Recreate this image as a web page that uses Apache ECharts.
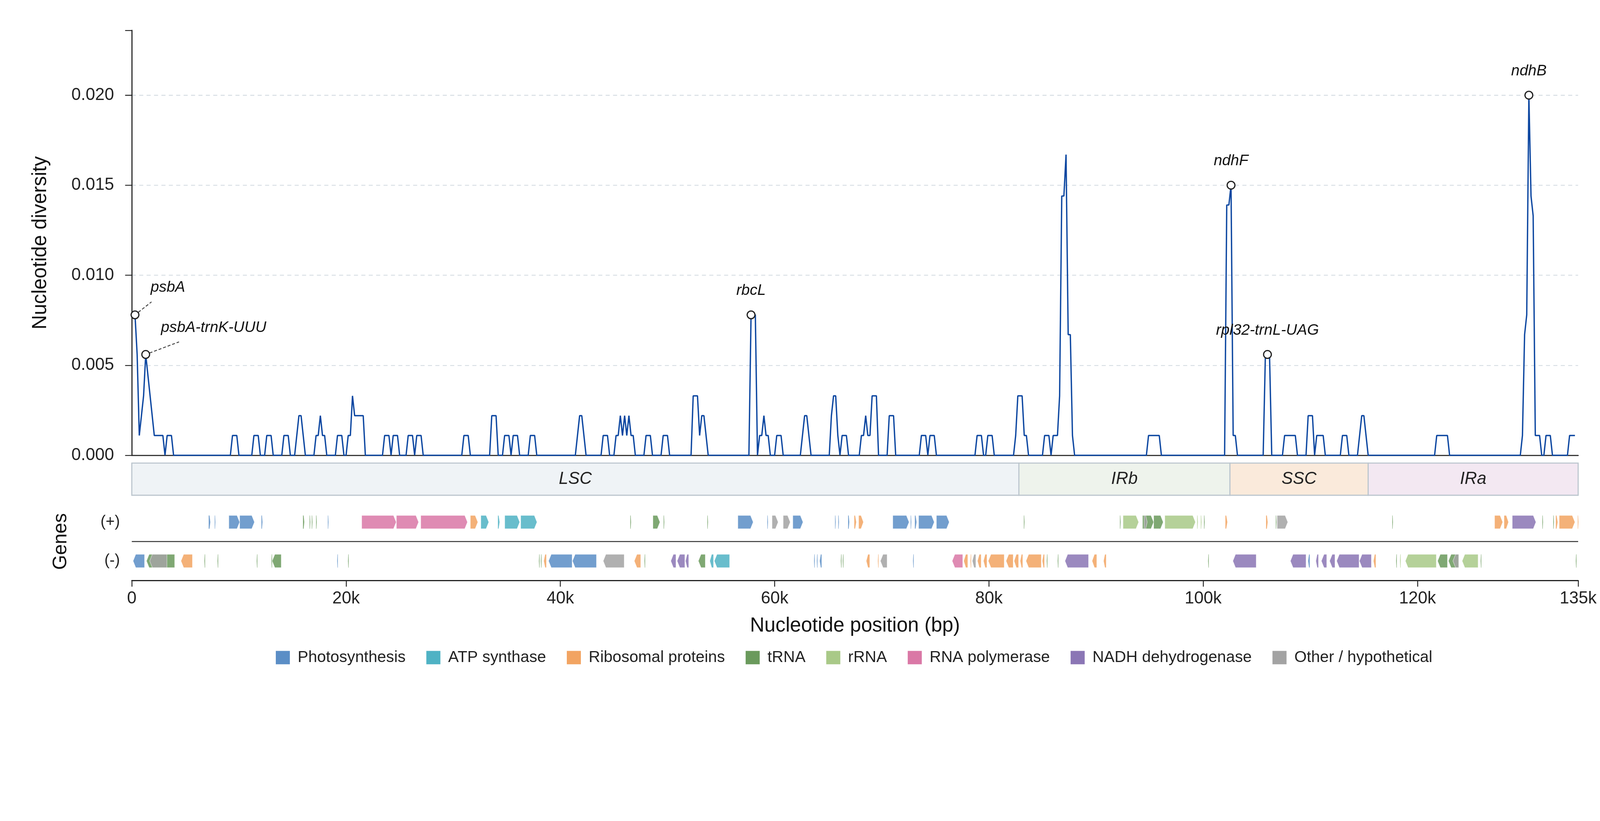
<!DOCTYPE html>
<html>
<head>
<meta charset="utf-8">
<script src="https://cdn.jsdelivr.net/npm/echarts@6/dist/echarts.min.js"></script>
<style>html,body{margin:0;padding:0;background:#fff;overflow:hidden}#c{width:4322px;height:2102px;transform-origin:0 0}</style>
</head>
<body>
<div id="c"></div>
<script>
// ---------------- DATA ----------------
const genomeLength = 135000;
const yTicks = [0, 0.005, 0.010, 0.015, 0.020];
const xTicks = [0, 20000, 40000, 60000, 80000, 100000, 120000, 135000];

// sliding-window nucleotide diversity: vertices [position bp, Pi]
const diversity = [
 [300,.0078],[500,.0056],[700,.0011],[1100,.0033],[1300,.0056],[2100,.0011],[2900,.0011],[3100,0],[3300,.0011],[3700,.0011],[3900,0],
 [9200,0],[9400,.0011],[9800,.0011],[10000,0],
 [11200,0],[11400,.0011],[11800,.0011],[12000,0],
 [12400,0],[12600,.0011],[13000,.0011],[13200,0],
 [14000,0],[14200,.0011],[14600,.0011],[14800,0],
 [15200,0],[15600,.0022],[15800,.0022],[16200,0],
 [17000,0],[17200,.0011],[17400,.0011],[17600,.0022],[17800,.0011],[18000,.0011],[18200,0],
 [19000,0],[19200,.0011],[19600,.0011],[19800,0],[20000,0],[20200,.0011],[20400,.0011],[20600,.0033],[20800,.0022],[21600,.0022],[21800,0],
 [23400,0],[23600,.0011],[24000,.0011],[24200,0],[24400,.0011],[24800,.0011],[25000,0],
 [25600,0],[25800,.0011],[26200,.0011],[26400,0],[26600,.0011],[27000,.0011],[27200,0],
 [30800,0],[31000,.0011],[31400,.0011],[31600,0],
 [33400,0],[33600,.0022],[34000,.0022],[34200,0],
 [34600,0],[34800,.0011],[35200,.0011],[35400,0],[35600,.0011],[36000,.0011],[36200,0],
 [37000,0],[37200,.0011],[37600,.0011],[37800,0],
 [41400,0],[41800,.0022],[42000,.0022],[42400,0],
 [43800,0],[44000,.0011],[44400,.0011],[44600,0],
 [45000,0],[45200,.0011],[45400,.0011],[45600,.0022],[45800,.0011],[46000,.0022],[46200,.0011],[46400,.0022],[46600,.0011],[46800,.0011],[47000,0],
 [47800,0],[48000,.0011],[48400,.0011],[48600,0],
 [49400,0],[49600,.0011],[50000,.0011],[50200,0],
 [52200,0],[52400,.0033],[52800,.0033],[53000,.0011],[53200,.0022],[53400,.0022],[53800,0],
 [57600,0],[57800,.0078],[58200,.0078],[58400,0],[58600,.0011],[58800,.0011],[59000,.0022],[59200,.0011],[59400,.0011],[59600,0],
 [60000,0],[60200,.0011],[60600,.0011],[60800,0],
 [62400,0],[62800,.0022],[63000,.0022],[63400,0],
 [65100,0],[65300,.0022],[65500,.0033],[65700,.0033],[65900,.0011],[66100,0],[66300,.0011],[66700,.0011],[66900,0],
 [67900,0],[68100,.0011],[68300,.0011],[68500,.0022],[68700,.0011],[68900,.0011],[69100,.0033],[69500,.0033],[69700,0],
 [70500,0],[70700,.0022],[71100,.0022],[71300,0],
 [73500,0],[73700,.0011],[74100,.0011],[74300,0],[74500,.0011],[74900,.0011],[75100,0],
 [78700,0],[78900,.0011],[79300,.0011],[79500,0],[79700,0],[79900,.0011],[80300,.0011],[80500,0],
 [82300,0],[82500,.0011],[82700,.0033],[83100,.0033],[83300,.0011],[83500,.0011],[83700,0],
 [85000,0],[85200,.0011],[85600,.0011],[85800,0],[86000,.0011],[86400,.0011],[86600,.0033],[86800,.0144],[87000,.0144],[87200,.0167],[87400,.0067],[87600,.0067],[87800,.0011],[88000,0],
 [94700,0],[94900,.0011],[95900,.0011],[96100,0],
 [102000,0],[102200,.0139],[102400,.0139],[102600,.0150],[102800,.0011],[103000,.0011],[103200,0],
 [105600,0],[105800,.0054],[106000,.0056],[106200,.0054],[106400,0],
 [107400,0],[107600,.0011],[108600,.0011],[108800,0],
 [109600,0],[109800,.0022],[110200,.0022],[110400,0],[110600,.0011],[111200,.0011],[111400,0],
 [112800,0],[113000,.0011],[113400,.0011],[113600,0],
 [114400,0],[114800,.0022],[115000,.0022],[115400,0],
 [121600,0],[121800,.0011],[122800,.0011],[123000,0],
 [129600,0],[129800,.0011],[130000,.0067],[130200,.0078],[130400,.0200],[130600,.0144],[130800,.0133],[131000,.0011],[131400,.0011],[131600,0],[131800,0],[132000,.0011],[132400,.0011],[132600,0],
 [134000,0],[134200,.0011],[134700,.0011]
];

// highlighted peaks
const annotationNames = ['psbA', 'psbA-trnK-UUU', 'rbcL', 'ndhF', 'rpl32-trnL-UAG', 'ndhB'];
const annotationPoints = [[300,.0078],[1300,.0056],[57800,.0078],[102600,.0150],[106000,.0056],[130400,.0200]];

// genome regions
const regionNames = ['LSC', 'IRb', 'SSC', 'IRa'];
const regionBounds = [[0,82800],[82800,102500],[102500,115400],[115400,135000]];

// gene categories
const categories = ['Photosynthesis','ATP synthase','Ribosomal proteins','tRNA','rRNA','RNA polymerase','NADH dehydrogenase','Other / hypothetical'];

// genes: [start bp, end bp, strand]
const photosynthesisGenes = [
 [7180,7330,'+'],[7740,7800,'+'],[9060,10070,'+'],[10070,11450,'+'],[12100,12200,'+'],[18300,18360,'+'],
 [56570,58000,'+'],[59320,59380,'+'],[61700,62650,'+'],[65640,65700,'+'],[65940,66000,'+'],[66860,66970,'+'],
 [71030,72550,'+'],[72700,72760,'+'],[73080,73260,'+'],[73440,74900,'+'],[75100,76300,'+'],
 [120,1190,'-'],[19170,19230,'-'],[38900,41100,'-'],[41130,43370,'-'],[63680,63740,'-'],[63940,64000,'-'],
 [64200,64400,'-'],[72920,72980,'-'],[109780,109960,'-']
];
const atpGenes = [
 [32580,33320,'+'],[34160,34340,'+'],[34810,36210,'+'],[36300,37820,'+'],
 [53950,54300,'-'],[54370,55800,'-']
];
const ribosomalGenes = [
 [31600,32300,'+'],[67420,67630,'+'],[67840,68290,'+'],[102060,102270,'+'],[105870,106020,'+'],
 [127200,127960,'+'],[128080,128500,'+'],[132900,133100,'+'],[133230,134700,'+'],[134960,135000,'+'],
 [4590,5660,'-'],[38450,38700,'-'],[46900,47500,'-'],[68550,68880,'-'],[69640,69700,'-'],[77650,78030,'-'],
 [78280,78340,'-'],[78930,79280,'-'],[79490,79820,'-'],[79940,81430,'-'],[81600,82270,'-'],[82350,82770,'-'],
 [82920,83160,'-'],[83460,84890,'-'],[84980,85190,'-'],[89630,90070,'-'],[90700,90950,'-'],[115890,116120,'-']
];
const trnaGenes = [
 [15980,16100,'+'],[16600,16660,'+'],[16800,16860,'+'],[17200,17260,'+'],[46530,46600,'+'],[48640,49300,'+'],
 [49640,49700,'+'],[53720,53780,'+'],[83260,83320,'+'],[92230,92290,'+'],[94340,95380,'+'],[95380,96270,'+'],
 [100080,100140,'+'],[106780,106840,'+'],[117650,117710,'+'],[131660,131720,'+'],[132680,132740,'+'],
 [1370,4000,'-'],[6780,6840,'-'],[8000,8060,'-'],[11660,11720,'-'],[13030,13090,'-'],[13100,13950,'-'],
 [20180,20240,'-'],[38000,38050,'-'],[38180,38240,'-'],[47850,47910,'-'],[52880,53530,'-'],[66180,66240,'-'],
 [66360,66420,'-'],[85400,85460,'-'],[86420,86480,'-'],[100460,100520,'-'],[118010,118070,'-'],
 [121880,122800,'-'],[122890,123850,'-'],[125900,125960,'-'],[134780,134840,'-']
];
const rrnaGenes = [
 [92520,93980,'+'],[96420,99280,'+'],[99440,99500,'+'],[99780,99840,'+'],
 [118370,118430,'-'],[118870,121760,'-'],[124170,125660,'-']
];
const rnaPolGenes = [
 [21460,24680,'+'],[24700,26770,'+'],[26970,31330,'+'],
 [76570,77560,'-']
];
const ndhGenes = [
 [128850,131060,'+'],
 [50310,50790,'-'],[50900,51620,'-'],[51680,51980,'-'],[87100,89300,'-'],[102770,104950,'-'],[108140,109600,'-'],
 [110520,110760,'-'],[111030,111530,'-'],[111800,112300,'-'],[112460,114550,'-'],[114580,115700,'-']
];
const otherGenes = [
 [59760,60330,'+'],[60800,61460,'+'],[94490,94780,'+'],[106900,107900,'+'],
 [1670,3280,'-'],[44000,45960,'-'],[69870,70500,'-'],[78450,78780,'-'],[123310,123850,'-']
];
const genesByCategory = [photosynthesisGenes, atpGenes, ribosomalGenes, trnaGenes, rrnaGenes, rnaPolGenes, ndhGenes, otherGenes];
const strandLabels = ['(-)', '(+)'];

// ---------------- STYLE ----------------
const W = 4322, H = 2102;
const FONT = 'Liberation Sans, Arial, Helvetica, sans-serif';
const categoryColors = ['#5b8ec6','#4fb2c4','#f2a462','#6a9a5c','#a9c988','#da78a6','#8b76b5','#a3a3a3'];
const regionColors = ['#eff3f6','#eef3ec','#faeadb','#f3e8f2'];
const lineColor = '#0d47a1';
// label placement per annotation (pixel offsets from the marker)
const annotationStyles = [
 {dx: 42, dy: -74, align: 'left', leader: [9, -7, 44.5, -35]},
 {dx: 41, dy: -72, align: 'left', leader: [10.5, -4, 90, -34]},
 {dx: 0, dy: -65, align: 'center'},
 {dx: 0, dy: -65, align: 'center'},
 {dx: 0, dy: -65, align: 'center'},
 {dx: 0, dy: -65, align: 'center'}
];

const GRID_L = 356, GRID_R = 59;

function geneRender(color) {
  return function (params, api) {
    const s = api.value(0), e = api.value(1), lane = api.value(2), dir = api.value(3);
    const p0 = api.coord([s, lane]), p1 = api.coord([e, lane]);
    const h = 36;
    const x0 = p0[0];
    const x1 = Math.max(p1[0], x0 + 1.8);
    const yc = p0[1];
    const w = x1 - x0;
    const head = Math.min(7.2, w * 0.5);
    let pts;
    if (dir > 0) pts = [[x0, yc - h/2], [x1 - head, yc - h/2], [x1, yc], [x1 - head, yc + h/2], [x0, yc + h/2]];
    else pts = [[x0 + head, yc - h/2], [x1, yc - h/2], [x1, yc + h/2], [x0 + head, yc + h/2], [x0, yc]];
    return {
      type: 'polygon', shape: { points: pts },
      style: { fill: color, opacity: 0.86, stroke: w > 5 ? 'rgba(255,255,255,0.75)' : null, lineWidth: w > 5 ? 1.2 : 0 }
    };
  };
}

const geneSeries = categories.map((name, ci) => ({
  name: name,
  type: 'custom',
  xAxisIndex: 2, yAxisIndex: 2,
  itemStyle: { color: categoryColors[ci] },
  encode: { x: [0, 1], y: 2 },
  clip: false,
  renderItem: geneRender(categoryColors[ci]),
  data: genesByCategory[ci].map(g => [g[0], g[1], g[2] === '+' ? 1 : 0, g[2] === '+' ? 1 : -1]),
  z: 3
}));

// fit the fixed 4322x2102 drawing to the actual viewport
const el = document.getElementById('c');
const fit = Math.min(window.innerWidth / W, window.innerHeight / H);
el.style.transform = 'scale(' + fit + ')';
const chart = echarts.init(el, null, { renderer: 'canvas', width: W, height: H,
  devicePixelRatio: (window.devicePixelRatio || 1) * fit });

const option = {
  animation: false,
  backgroundColor: '#ffffff',
  textStyle: { fontFamily: FONT },
  grid: [
    { left: GRID_L, right: GRID_R, top: 82, height: 1148 },
    { left: GRID_L, right: GRID_R, top: 1251, height: 87 },
    { left: GRID_L, right: GRID_R, top: 1358, height: 210 }
  ],
  xAxis: [
    { gridIndex: 0, type: 'value', min: 0, max: genomeLength,
      axisLine: { show: true, onZero: false, lineStyle: { color: '#222', width: 3 } },
      axisTick: { show: false }, axisLabel: { show: false }, splitLine: { show: false } },
    { gridIndex: 1, type: 'value', min: 0, max: genomeLength, show: false },
    { gridIndex: 2, type: 'value', min: 0, max: genomeLength, interval: 20000,
      axisLine: { show: true, onZero: false, lineStyle: { color: '#222', width: 3 } },
      axisTick: { show: true, length: 17, lineStyle: { color: '#222', width: 2.5 } },
      axisLabel: { fontSize: 46, color: '#222', margin: 27, fontFamily: FONT,
        formatter: v => (xTicks.indexOf(v) < 0 ? '' : (v === 0 ? '0' : (v / 1000) + 'k')) },
      splitLine: { show: false },
      name: 'Nucleotide position (bp)', nameLocation: 'middle', nameGap: 96,
      nameTextStyle: { fontSize: 54, color: '#111', fontFamily: FONT } }
  ],
  yAxis: [
    { gridIndex: 0, type: 'value', min: 0, max: 0.0236, interval: 0.005,
      axisLine: { show: true, lineStyle: { color: '#222', width: 3 } },
      axisTick: { show: true, length: 18, lineStyle: { color: '#222', width: 2.5 } },
      axisLabel: { fontSize: 46, color: '#222', margin: 48, fontFamily: FONT,
        formatter: v => (yTicks.some(t => Math.abs(t - v) < 1e-9) ? v.toFixed(3) : '') },
      splitLine: { show: true, showMinLine: false, showMaxLine: false,
        lineStyle: { color: '#d6dde3', width: 2.5, type: [11, 9] } },
      name: 'Nucleotide diversity', nameLocation: 'middle', nameGap: 219,
      nameTextStyle: { fontSize: 54, color: '#111', fontFamily: FONT } },
    { gridIndex: 1, type: 'value', min: 0, max: 1, show: false },
    { gridIndex: 2, type: 'category', data: strandLabels,
      axisLine: { show: false }, axisTick: { show: false },
      axisLabel: { fontSize: 42, color: '#222', margin: 32, fontFamily: FONT },
      splitLine: { show: false },
      name: 'Genes', nameLocation: 'middle', nameGap: 165,
      nameTextStyle: { fontSize: 52, color: '#111', fontFamily: FONT } }
  ],
  legend: {
    data: categories, left: 740, top: 1750, orient: 'horizontal',
    icon: 'rect', itemWidth: 38, itemHeight: 36, itemGap: 56,
    selectedMode: false,
    textStyle: { fontSize: 43, color: '#222', fontFamily: FONT, padding: [0, 0, 0, 16] }
  },
  series: [
    { name: 'Pi', type: 'line', xAxisIndex: 0, yAxisIndex: 0, data: diversity,
      showSymbol: false, symbol: 'none', smooth: false,
      lineStyle: { color: lineColor, width: 3.6 }, itemStyle: { color: lineColor }, z: 2 },
    { name: 'peaks', type: 'custom', xAxisIndex: 0, yAxisIndex: 0, clip: false, z: 5,
      encode: { x: 0, y: 1 },
      data: annotationPoints,
      renderItem: function (params, api) {
        const i = params.dataIndex;
        const p = api.coord([api.value(0), api.value(1)]);
        const st = annotationStyles[i];
        const ch = [];
        if (st.leader) {
          ch.push({ type: 'line', shape: { x1: p[0] + st.leader[0], y1: p[1] + st.leader[1], x2: p[0] + st.leader[2], y2: p[1] + st.leader[3] },
            style: { stroke: '#444', lineWidth: 2.5, lineDash: [8, 5] } });
        }
        ch.push({ type: 'circle', shape: { cx: p[0], cy: p[1], r: 10.5 }, style: { fill: '#fff', stroke: '#222', lineWidth: 3.2 } });
        ch.push({ type: 'text', style: { text: annotationNames[i], x: p[0] + st.dx, y: p[1] + st.dy,
          align: st.align, verticalAlign: 'middle', fontSize: 41, fontStyle: 'italic', fontFamily: FONT, fill: '#111' } });
        return { type: 'group', children: ch };
      } },
    { name: 'regions', type: 'custom', xAxisIndex: 1, yAxisIndex: 1, clip: false, z: 2,
      encode: { x: [0, 1] },
      data: regionBounds,
      renderItem: function (params, api) {
        const i = params.dataIndex;
        const a = api.coord([api.value(0), 1]);
        const b = api.coord([api.value(1), 0]);
        return { type: 'group', children: [
          { type: 'rect', shape: { x: a[0], y: a[1], width: b[0] - a[0], height: b[1] - a[1] },
            style: { fill: regionColors[i], stroke: '#bcc6ce', lineWidth: 3 } },
          { type: 'text', style: { text: regionNames[i], x: (a[0] + b[0]) / 2, y: (a[1] + b[1]) / 2,
            align: 'center', verticalAlign: 'middle', fontSize: 46, fontStyle: 'italic', fontFamily: FONT, fill: '#222' } }
        ] };
      } },
    { name: 'separator', type: 'custom', xAxisIndex: 2, yAxisIndex: 2, clip: false, z: 2,
      encode: { x: [0, 1], y: 2 },
      data: [[0, genomeLength, 0]],
      renderItem: function (params, api) {
        const a = api.coord([api.value(0), 0]);
        const b = api.coord([api.value(1), 1]);
        const y = (a[1] + b[1]) / 2;
        return { type: 'line', shape: { x1: a[0], y1: y, x2: b[0], y2: y }, style: { stroke: '#333', lineWidth: 2.5 } };
      } }
  ].concat(geneSeries)
};
chart.setOption(option);
</script>
</body>
</html>
